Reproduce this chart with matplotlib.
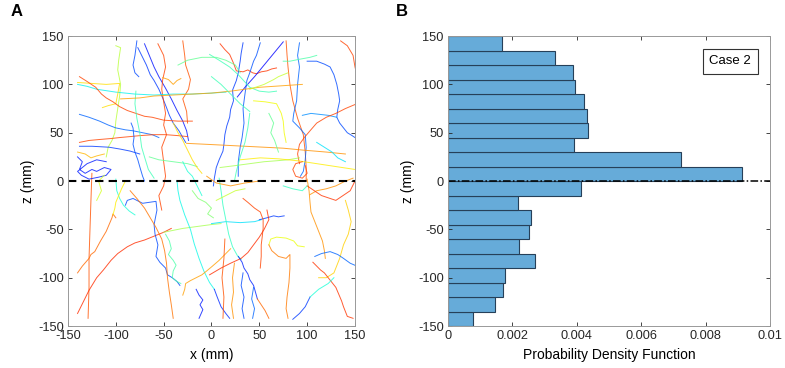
import numpy as np
import matplotlib
matplotlib.use("Agg")
from matplotlib import pyplot as plt

plt.rcParams['font.family'] = ['Liberation Sans', 'DejaVu Sans']
plt.rcParams['axes.unicode_minus'] = False

# panel B: histogram of z (15 mm bins), PDF values
bin_edges = np.arange(-150, 151, 15)
pdf_vals = [0.00077, 0.00146, 0.00172, 0.00177, 0.00269, 0.00219, 0.00250, 0.00259,
            0.00216, 0.00412, 0.00914, 0.00724, 0.00392, 0.00434, 0.00433, 0.00421,
            0.00395, 0.00389, 0.00333, 0.00169]
pdf_ticks = [0, 0.002, 0.004, 0.006, 0.008, 0.01]
pdf_ticklabels = ["0", "0.002", "0.004", "0.006", "0.008", "0.01"]
mm_ticks = [-150, -100, -50, 0, 50, 100, 150]
case_label = "Case 2"

# panel A: trajectories (x, z in mm), colour value on the jet map
trajectories = [
    (0.88, [(-125, 8), (-126, -20), (-127, -50), (-128, -80), (-128, -110), (-129, -142)]),
    (0.85, [(-140, -95), (-135, -88), (-128, -80), (-126, -76), (-122, -73), (-116, -62), (-110, -52), (-107, -45), (-104, -38), (-103, -34), (-100, -38)]),
    (0.93, [(-140, -137), (-134, -125), (-128, -113), (-120, -100), (-113, -92), (-105, -82), (-98, -75), (-88, -68), (-80, -64), (-70, -61), (-60, -57), (-50, -53), (-42, -49)]),
    (0.55, [(-50, -53), (-40, -51), (-30, -49), (-15, -47), (0, -45), (10, -44)]),
    (0.30, [(0, -44), (15, -42), (30, -43), (45, -42), (52, -40)]),
    (0.10, [(50, -40), (58, -38), (65, -36), (70, -37), (76, -36)]),
    (0.12, [(-90, -25), (-88, -20), (-82, -18), (-78, -20), (-72, -23), (-65, -22), (-58, -21), (-57, -30), (-60, -45), (-59, -55), (-56, -66), (-58, -78), (-54, -84), (-48, -90), (-46, -97), (-41, -100), (-36, -104), (-33, -108)]),
    (0.84, [(-85, -10), (-78, -18), (-70, -28), (-64, -38), (-58, -48), (-52, -60), (-49, -72), (-47, -85), (-46, -100), (-44, -115), (-42, -128), (-40, -142)]),
    (0.42, [(-48, -55), (-44, -62), (-42, -70), (-45, -76), (-40, -82), (-37, -87), (-40, -93), (-41, -100), (-36, -104), (-32, -106)]),
    (0.33, [(-36, 0), (-35, -10), (-33, -20), (-28, -35), (-22, -50), (-18, -65), (-13, -80), (-8, -93), (-2, -105), (3, -112)]),
    (0.08, [(3, -112), (6, -120), (10, -130), (15, -137), (19, -142)]),
    (0.78, [(-30, -118), (-28, -112), (-27, -106), (-22, -103), (-16, -100), (-10, -97), (-5, -93), (1, -88), (8, -82), (14, -76), (20, -70)]),
    (0.06, [(-16, -112), (-13, -118), (-9, -123), (-12, -128), (-9, -133), (-13, -142)]),
    (0.35, [(-100, 2), (-99, -10), (-96, -18), (-92, -25), (-86, -31), (-80, -35)]),
    (0.68, [(-103, -35), (-101, -28), (-100, -22), (-97, -15), (-94, -8), (-90, 0)]),
    (0.38, [(8, 3), (10, -10), (12, -25), (15, -40), (18, -55), (22, -68), (27, -77), (31, -81)]),
    (0.90, [(33, -18), (38, -22), (45, -28), (51, -32), (54, -40), (54, -49), (53, -58), (52, -66), (52, -78), (51, -90)]),
    (0.93, [(-2, -97), (10, -90), (20, -85), (31, -80), (38, -74), (44, -66), (50, -58), (55, -50), (60, -40), (58, -30)]),
    (0.65, [(60, -66), (62, -60), (68, -58), (78, -59), (86, -62), (90, -67), (97, -68)]),
    (0.83, [(60, -66), (63, -72), (70, -78), (78, -80), (82, -76), (82, -90), (81, -105), (79, -120), (78, -132), (80, -142)]),
    (0.80, [(100, 2), (102, -10), (103, -22), (104, -32), (108, -42), (112, -52), (116, -62), (118, -72), (119, -80)]),
    (0.72, [(140, -20), (143, -30), (146, -42), (143, -55), (138, -66), (134, -80), (128, -95), (120, -100), (112, -100)]),
    (0.15, [(108, -78), (115, -75), (124, -73), (132, -76), (138, -80), (145, -85), (152, -88)]),
    (0.92, [(106, -84), (110, -88), (114, -92), (118, -95), (122, -100), (126, -105), (130, -110), (133, -117), (136, -124), (138, -130), (140, -135), (142, -140), (148, -142)]),
    (0.10, [(85, -143), (92, -137), (98, -130), (103, -120)]),
    (0.35, [(103, -120), (112, -112), (122, -106), (128, -100)]),
    (0.07, [(28, -78), (32, -84), (34, -90), (38, -96), (40, -102), (44, -108), (46, -115), (48, -122)]),
    (0.85, [(48, -122), (52, -128), (56, -134), (60, -142)]),
    (0.88, [(14, -60), (13, -80), (11, -100), (13, -120), (12, -142)]),
    (0.80, [(24, -85), (22, -100), (23, -115), (21, -128), (23, -142)]),
    (0.12, [(33, -95), (31, -108), (34, -120), (32, -132), (34, -142)]),
    (0.15, [(44, -110), (42, -122), (45, -132), (43, -142)]),
    (0.58, [(-100, 140), (-95, 138), (-97, 125), (-98, 115), (-95, 100), (-96, 88), (-98, 75), (-100, 62), (-101, 50), (-104, 42), (-108, 35), (-110, 25)]),
    (0.10, [(-77, 138), (-72, 128), (-68, 120), (-64, 110), (-60, 104), (-55, 95), (-51, 86), (-47, 76), (-44, 68), (-40, 60), (-34, 52), (-30, 45), (-27, 40)]),
    (0.05, [(-70, 142), (-65, 130), (-60, 118), (-55, 108), (-48, 96), (-42, 85), (-36, 73), (-30, 62), (-26, 52), (-24, 42)]),
    (0.12, [(-78, 145), (-80, 130), (-82, 120), (-80, 112), (-76, 108)]),
    (0.90, [(-56, 142), (-50, 130), (-48, 118), (-51, 105), (-52, 95), (-50, 82), (-48, 70), (-50, 58), (-47, 48), (-52, 35), (-50, 20), (-48, 5), (-50, -5), (-55, -15), (-52, -30)]),
    (0.88, [(-30, 145), (-28, 130), (-27, 120), (-22, 105), (-24, 95), (-30, 85), (-26, 72), (-25, 60)]),
    (0.32, [(-140, 100), (-130, 98), (-120, 95), (-100, 92), (-80, 90), (-60, 89), (-40, 90), (-20, 90), (0, 91), (15, 92)]),
    (0.70, [(-140, 102), (-125, 101), (-110, 100), (-96, 101), (-98, 90), (-100, 80), (-108, 78), (-114, 76)]),
    (0.90, [(-138, 108), (-130, 103), (-121, 97), (-115, 90), (-110, 86), (-103, 82), (-96, 77), (-88, 73), (-79, 70), (-70, 67), (-62, 66), (-50, 63), (-35, 62), (-20, 62)]),
    (0.15, [(-138, 69), (-128, 66), (-117, 62), (-108, 58), (-100, 55), (-90, 53), (-82, 52), (-72, 50), (-62, 48), (-55, 45)]),
    (0.90, [(-138, 40), (-128, 42), (-117, 43), (-105, 44), (-96, 45), (-85, 46), (-75, 47), (-60, 48), (-48, 48), (-35, 47), (-25, 46)]),
    (0.10, [(-138, 36), (-125, 36), (-107, 35), (-95, 33), (-85, 31), (-75, 28)]),
    (0.06, [(-140, 25), (-135, 20), (-138, 12), (-132, 8), (-125, 12), (-120, 10), (-112, 14), (-105, 12), (-110, 6), (-118, 4), (-128, 2), (-136, 6), (-140, 10), (-130, 18), (-120, 22), (-110, 20)]),
    (0.13, [(-84, 60), (-82, 55), (-81, 45), (-82, 38), (-80, 30), (-77, 22), (-75, 15), (-72, 5), (-70, 0)]),
    (0.40, [(-79, 93), (-80, 80), (-78, 65), (-75, 50), (-73, 35), (-70, 25), (-66, 12), (-60, 3)]),
    (0.45, [(-65, 25), (-55, 22), (-40, 20), (-25, 18), (-15, 15)]),
    (0.78, [(-51, 107), (-45, 105), (-40, 100), (-36, 104), (-32, 106)]),
    (0.70, [(-40, 60), (-35, 50), (-30, 42), (-25, 32), (-20, 22), (-15, 14), (-10, 8)]),
    (0.92, [(9, 142), (14, 136), (19, 131), (23, 122), (26, 114), (33, 113), (38, 115), (43, 112), (47, 111), (52, 113), (58, 114), (63, 116), (68, 117)]),
    (0.10, [(33, 143), (31, 132), (30, 124), (28, 112), (26, 104), (22, 94), (23, 83), (20, 74), (19, 66), (16, 57), (14, 48), (13, 38), (12, 31), (8, 22), (5, 14), (3, 3), (2, -5)]),
    (0.03, [(75, 144), (65, 132), (55, 120), (45, 108), (35, 97), (27, 87)]),
    (0.13, [(51, 143), (47, 130), (44, 124), (40, 112), (37, 104), (35, 90), (33, 75), (34, 60), (32, 45), (30, 35), (28, 20), (28, 5)]),
    (0.88, [(78, 145), (79, 130), (80, 118), (82, 100), (85, 83), (90, 65), (96, 48), (98, 30), (99, 14), (99, 0)]),
    (0.15, [(92, 143), (90, 130), (92, 118), (90, 100), (89, 83), (86, 70), (85, 62), (92, 55), (98, 48), (99, 35), (98, 22), (96, 10), (93, 5)]),
    (0.12, [(100, 124), (110, 124), (118, 121), (124, 118), (128, 110), (131, 100), (133, 90), (134, 83), (132, 74), (131, 66), (134, 60), (138, 55), (142, 50), (147, 47), (150, 45)]),
    (0.20, [(131, 66), (122, 68), (113, 69), (104, 70), (95, 68)]),
    (0.90, [(135, 145), (142, 140), (148, 130), (150, 118), (152, 110)]),
    (0.90, [(152, 80), (140, 75), (130, 70), (120, 66), (110, 60), (103, 52), (97, 45), (92, 38), (90, 28), (92, 18)]),
    (0.40, [(-2, 131), (8, 125), (19, 118), (28, 110), (40, 97), (50, 93), (60, 92), (68, 93)]),
    (0.42, [(75, 124), (82, 124), (92, 126), (103, 128), (110, 130)]),
    (0.78, [(-95, 85), (-75, 86), (-60, 88), (-40, 89), (-20, 90), (0, 91), (20, 93), (35, 95), (50, 97), (65, 98), (80, 99), (95, 100)]),
    (0.80, [(-26, 39), (-5, 38), (15, 37), (35, 36), (55, 35), (75, 34), (96, 32), (120, 30), (140, 28)]),
    (0.55, [(9, 14), (25, 16), (40, 18), (55, 20), (68, 21), (80, 22), (92, 24)]),
    (0.68, [(30, 22), (51, 24), (70, 23), (90, 21), (110, 18), (130, 15), (150, 12)]),
    (0.45, [(-35, 120), (-25, 125), (-10, 128), (5, 128), (15, 125), (25, 120), (30, 112)]),
    (0.60, [(40, 95), (55, 100), (65, 105), (70, 108), (80, 112)]),
    (0.90, [(95, 20), (88, 18), (85, 12), (88, 5), (95, 3), (100, 8), (98, 16)]),
    (0.80, [(103, -14), (110, -10), (120, -8), (130, -5), (140, 0), (148, 3)]),
    (0.92, [(100, -5), (115, -15), (130, -20), (145, -10), (150, 0)]),
    (0.38, [(100, -5), (95, -10), (85, -8), (75, -5)]),
    (0.60, [(5, -20), (15, -15), (25, -10), (35, -8)]),
    (0.80, [(-5, 5), (5, -2), (20, -5), (35, -2), (50, 0)]),
    (0.35, [(-30, 20), (-25, 10), (-20, 5), (-15, -5), (-10, -15)]),
    (0.66, [(44, 83), (56, 82), (68, 80), (73, 70), (75, 62), (76, 50), (78, 40)]),
    (0.40, [(0, 108), (10, 100), (20, 90), (30, 80), (40, 72)]),
    (0.40, [(40, 70), (38, 55), (35, 40), (30, 25), (26, 10), (24, 0)]),
    (0.50, [(-20, -10), (-14, -18), (-6, -22), (0, -28), (-4, -34), (2, -38)]),
    (0.75, [(-140, 30), (-132, 28), (-126, 24), (-120, 26), (-112, 28)]),
    (0.45, [(60, 70), (65, 60), (62, 50), (66, 42), (70, 30)]),
    (0.62, [(-120, -20), (-115, -10), (-118, 0), (-112, 6)]),
    (0.30, [(110, 40), (118, 35), (126, 30), (132, 24), (140, 20)]),
]

fig = plt.figure(figsize=(7.85, 3.68), dpi=100)
axA = fig.add_axes([0.0866, 0.114, 0.3656, 0.788])
axB = fig.add_axes([0.5707, 0.114, 0.4102, 0.788])

jet = plt.get_cmap('jet')
for c, pts in trajectories:
    pts = np.array(pts)
    # keep away from the darkest ends of jet, the picture's lines look lighter
    axA.plot(pts[:, 0], pts[:, 1], color=jet(0.1 + 0.82 * c), lw=0.7, alpha=0.8)
axA.plot([-150, 150], [0, 0], 'k--', lw=1.5, dashes=(4, 2.5))
axA.set_xlim(-150, 150)
axA.set_ylim(-150, 150)
axA.set_xticks(mm_ticks)
axA.set_yticks(mm_ticks)
axA.set_xlabel("x (mm)", fontsize=10, labelpad=4)
axA.set_ylabel("z (mm)", fontsize=10, labelpad=2)

centers = (bin_edges[:-1] + bin_edges[1:]) / 2
axB.barh(centers, pdf_vals, height=15, color=(0.40, 0.67, 0.85),
         edgecolor=(0.15, 0.25, 0.35), linewidth=0.8)
axB.plot([0, 0.01], [0, 0], color='k', lw=1.1, linestyle=(0, (5, 1.5, 1, 1.5)))
axB.set_xlim(0, 0.01)
axB.set_ylim(-150, 150)
axB.set_xticks(pdf_ticks)
axB.set_xticklabels(pdf_ticklabels)
axB.set_yticks(mm_ticks)
axB.set_xlabel("Probability Density Function", fontsize=10, labelpad=4)
axB.set_ylabel("z (mm)", fontsize=10, labelpad=2)
axB.text(0.876, 0.913, case_label, transform=axB.transAxes, ha='center', va='center',
         fontsize=9.5, bbox=dict(boxstyle='square,pad=0.5', fc='white', ec='0.2', lw=0.8))

for ax in (axA, axB):
    ax.tick_params(direction='in', length=3, width=0.6, labelsize=9.2, colors='0.15',
                   top=True, right=True, pad=3)
    for s in ax.spines.values():
        s.set_color('0.6')
        s.set_linewidth(0.7)

fig.text(17 / 785, 1 - 12 / 368, "A", fontsize=12, fontweight='bold', ha='center', va='center')
fig.text(402 / 785, 1 - 12 / 368, "B", fontsize=12, fontweight='bold', ha='center', va='center')

fig.savefig("out.png", dpi=100)
